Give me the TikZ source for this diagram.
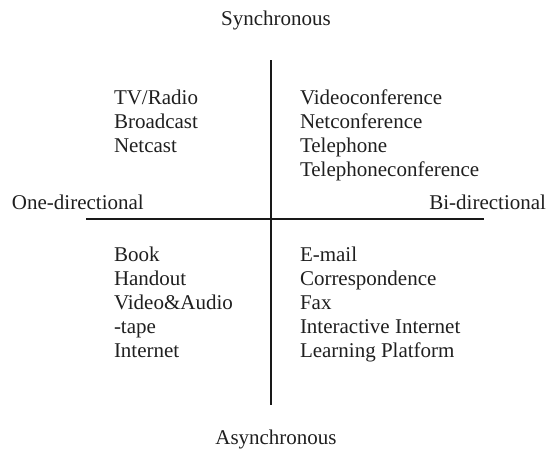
\documentclass[tikz,border=0pt]{standalone}
\usepackage{fontspec}
\setmainfont{Liberation Serif}
\begin{document}
\begin{tikzpicture}[x=1pt,y=-1pt,
  lbl/.style={inner sep=0pt,outer sep=0pt,text=black!88,font=\fontsize{21}{24}\selectfont},
  item/.style={lbl,anchor=base west},
  axis/.style={line width=2pt,black!90}]
\useasboundingbox (0,0) rectangle (548,450);

% axes
\coordinate (vtop) at (271,60);
\coordinate (vbot) at (271,405);
\coordinate (hl) at (86,219);
\coordinate (hr) at (484,219);
\draw[axis] (vtop) -- (vbot);
\draw[axis] (hl) -- (hr);

% axis labels
\node[lbl,anchor=base] (sync) at (276,25) {Synchronous};
\node[lbl,anchor=base] (async) at (276,444) {Asynchronous};
\node[lbl,anchor=base west] (onedir) at (12,209) {One-directional};
\node[lbl,anchor=base east] (bidir) at (546,209) {Bi-directional};

% synchronous, one-directional
\node[item] (ul1) at (114,104) {TV/Radio};
\node[item] (ul2) at (114,128) {Broadcast};
\node[item] (ul3) at (114,152) {Netcast};

% synchronous, bi-directional
\node[item] (ur1) at (300,104) {Videoconference};
\node[item] (ur2) at (300,128) {Netconference};
\node[item] (ur3) at (300,152) {Telephone};
\node[item] (ur4) at (300,176) {Telephoneconference};

% asynchronous, one-directional
\node[item] (ll1) at (114,261) {Book};
\node[item] (ll2) at (114,285) {Handout};
\node[item] (ll3) at (114,309) {Video\&Audio};
\node[item] (ll4) at (114,333) {-tape};
\node[item] (ll5) at (114,357) {Internet};

% asynchronous, bi-directional
\node[item] (lr1) at (300,261) {E-mail};
\node[item] (lr2) at (300,285) {Correspondence};
\node[item] (lr3) at (300,309) {Fax};
\node[item] (lr4) at (300,333) {Interactive Internet};
\node[item] (lr5) at (300,357) {Learning Platform};
\end{tikzpicture}
\end{document}
